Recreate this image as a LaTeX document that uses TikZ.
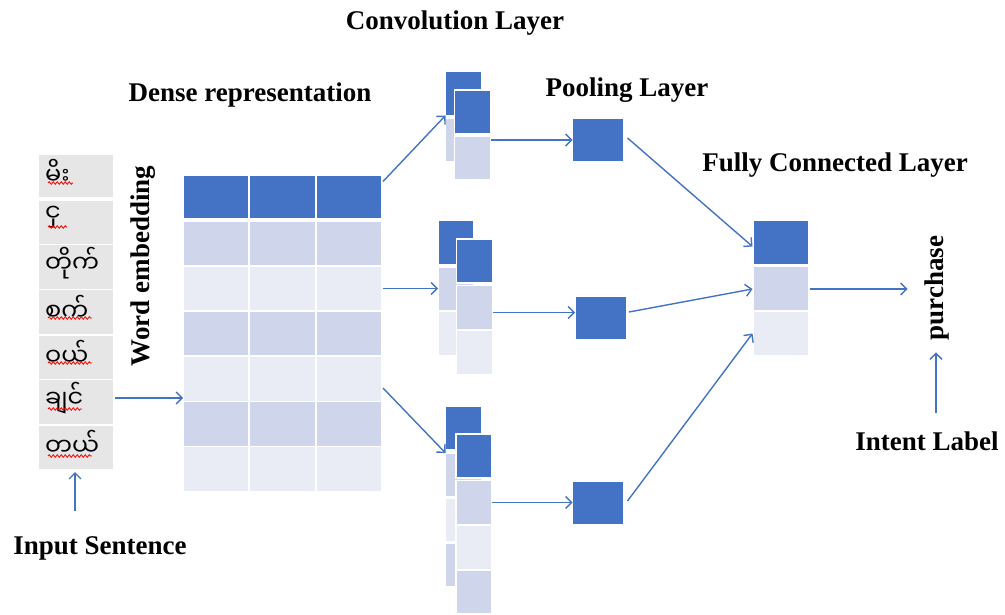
\documentclass[tikz,border=0pt]{standalone}
\usepackage{fontspec}
\setmainfont{Liberation Serif}
\newfontfamily\myafont[Script=Myanmar]{Noto Sans Myanmar UI}
\usetikzlibrary{arrows.meta,decorations.pathmorphing,calc}
\definecolor{dk}{HTML}{4472C4}
\definecolor{md}{HTML}{CFD5EA}
\definecolor{lt}{HTML}{E9EBF5}
\definecolor{gy}{HTML}{E7E6E6}
\tikzset{
 cellbase/.style={rectangle, draw=white, line width=1.5pt, inner sep=0, outer sep=0},
 tcell/.style={cellbase, minimum width=66pt, minimum height=45pt},
 ccell/.style={cellbase, minimum width=36pt, minimum height=44pt},
 pcell/.style={cellbase, fill=dk, line width=1pt, minimum width=51pt, minimum height=43pt},
 fcell/.style={cellbase, minimum width=55pt, minimum height=45pt},
 wcell/.style={cellbase, fill=gy, minimum width=76pt, minimum height=45pt},
 lbl/.style={font=\fontsize{27}{30}\selectfont\bfseries, inner sep=0},
 arr/.style={draw=dk, line width=1.4pt, -{Straight Barb[length=6pt,width=12pt]}},
 wav/.style={draw=red, line width=0.8pt, decorate, decoration={snake, segment length=4pt, amplitude=1.3pt}},
 wtxt/.style={font=\myafont\fontsize{24}{28}\selectfont, inner sep=0, anchor=west},
}
\begin{document}
\begin{tikzpicture}[x=1pt,y=-1pt]
\useasboundingbox (0,0) rectangle (1005,615);
\fill[white] (0,0) rectangle (1005,615);

% input words
\node[wcell, minimum height=43pt] (w1) at (76,176) {};
\foreach \i/\y in {2/223,3/267,4/312,5/357.5,6/402,7/447.5}
  \node[wcell] (w\i) at (76,\y) {};
\node[wtxt] (m1) at (45,172) {မိး};
\node[wtxt] (m2) at (45,217) {ငှ};
\node[wtxt] (m3) at (45,263) {တိုက်};
\node[wtxt] (m4) at (45,308) {စက်};
\node[wtxt] (m5) at (45,353) {ဝယ်};
\node[wtxt] (m6) at (45,398) {ချင်};
\node[wtxt] (m7) at (45,443) {တယ်};
\draw[wav] (48,183) -- (73,183);
\draw[wav] (48,227) -- (67,227);
\draw[wav] (48,318) -- (92,318);
\draw[wav] (48,363) -- (92,363);
\draw[wav] (48,409) -- (82,409);
\draw[wav] (48,456) -- (92,456);

% dense table
\foreach \c/\x in {1/216,2/282.5,3/349}{
  \node[tcell, fill=dk, minimum height=43pt] (t1\c) at (\x,197) {};
  \foreach \r/\y/\f in {2/243.5/md,3/288.5/lt,4/333.5/md,5/379/lt,6/424/md,7/469/lt}
    \node[tcell, fill=\f] (t\r\c) at (\x,\y) {};
}

% convolution group 1
\node[ccell, fill=dk] (c1b1) at (463.5,93.5) {};
\node[ccell, fill=md] (c1b2) at (463.5,140) {};
\node[ccell, fill=dk] (c1f1) at (472.5,112) {};
\node[ccell, fill=md] (c1f2) at (472.5,158) {};
% group 2
\node[ccell, fill=dk] (c2b1) at (456,242.5) {};
\node[ccell, fill=md] (c2b2) at (456,289) {};
\node[ccell, fill=lt] (c2b3) at (456,333.5) {};
\node[ccell, fill=dk] (c2f1) at (474.5,261) {};
\node[ccell, fill=md] (c2f2) at (474.5,307.5) {};
\node[ccell, fill=lt] (c2f3) at (474.5,352.5) {};
% group 3
\node[ccell, fill=dk] (c3b1) at (463.5,428) {};
\node[ccell, fill=md] (c3b2) at (463.5,475) {};
\node[ccell, fill=lt] (c3b3) at (463.5,520) {};
\node[ccell, fill=md] (c3b4) at (463.5,565) {};
\node[ccell, fill=dk] (c3f1) at (474,456) {};
\node[ccell, fill=md] (c3f2) at (474,502.5) {};
\node[ccell, fill=lt] (c3f3) at (474,547.5) {};
\node[ccell, fill=md] (c3f4) at (474,592) {};

% pooling
\node[pcell] (p1) at (598,140) {};
\node[pcell] (p2) at (600.5,318) {};
\node[pcell] (p3) at (598,503) {};

% fully connected
\node[fcell, fill=dk] (fc1) at (781,242.5) {};
\node[fcell, fill=md] (fc2) at (781,289) {};
\node[fcell, fill=lt] (fc3) at (781,333.5) {};

% labels
\node[lbl] (conv) at (455,23.5) {Convolution Layer};
\node[lbl] (dense) at (250,95) {Dense representation};
\node[lbl] (pool) at (627,90.5) {Pooling Layer};
\node[lbl] (fcl) at (835,165) {Fully Connected Layer};
\node[lbl, rotate=90] (we) at (143,266) {Word embedding};
\node[lbl, rotate=90] (purchase) at (937,288) {purchase};
\node[lbl] (intent) at (927,441) {Intent Label};
\node[lbl] (insent) at (100,548) {Input Sentence};

% arrows
\draw[arr] ($(w6.east)+(1,-4)$) -- ($(w6.east -| t51.west)+(0,-4)$);
\coordinate (isa) at (75,511);
\draw[arr, shorten >=2pt] (isa) -- (isa |- w7.south);

\draw[arr] ($(t13.north east)+(1,6)$) -- (c1b1.south west);
\draw[arr] ($(t33.east)+(1,0)$) -- (t33.east -| c2b2.west);
\draw[arr] ($(t53.east)+(1,9)$) -- (c3b2.north west);

\draw[arr] (p1.west -| c1f2.east) -- (p1.west);
\draw[arr] ($(c2f2.east)+(0,5)$) -- ($(c2f2.east -| p2.west)+(0,5)$);
\draw[arr] (c3f2.east) -- (c3f2.east -| p3.west);

\draw[arr] ($(p1.east)+(4,-2)$) -- ($(fc1.west)+(-1,4)$);
\draw[arr] ($(p2.east)+(3,-6)$) -- ($(fc2.west)+(-1,0)$);
\draw[arr] ($(p3.east)+(4,-2)$) -- ($(fc3.west)+(-1,0)$);

\draw[arr, shorten >=17pt] ($(fc2.east)+(1,0)$) -- (fc2.east -| purchase.north);
\coordinate (ia) at (936,413);
\draw[arr, shorten >=12pt] (ia) -- (ia |- purchase.west);
\end{tikzpicture}
\end{document}
